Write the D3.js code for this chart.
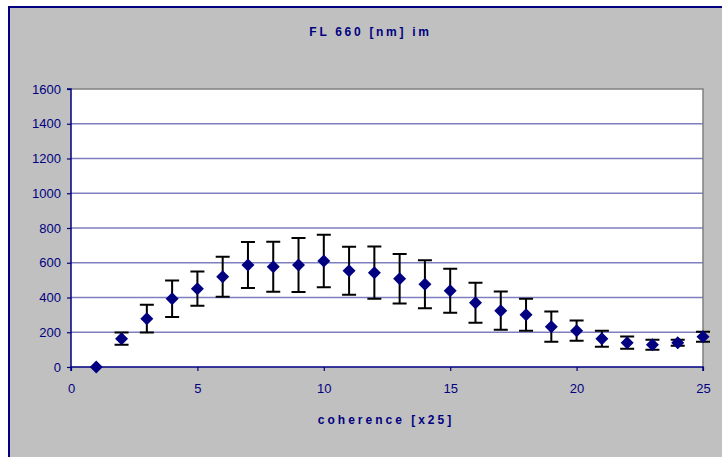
<!DOCTYPE html>
<html><head><meta charset="utf-8">
<script src="https://cdn.jsdelivr.net/npm/d3@7"></script>
<style>body{margin:0;background:#fff}svg{display:block}</style>
</head><body>
<script>
const xValues = [1,2,3,4,5,6,7,8,9,10,11,12,13,14,15,16,17,18,19,20,21,22,23,24,25];
const yValues = [0,163,278,393,451,520,587,577,587,610,554,543,508,476,439,370,324,301,232,209,163,140,128,140,174];
const yErrors = [0,35,80,105,98,115,132,144,155,151,138,150,143,138,127,115,110,92,87,58,46,35,29,17,29];
const xTicks = [0,5,10,15,20,25];
const yTicks = [0,200,400,600,800,1000,1200,1400,1600];
const title = "FL 660 [nm] im";
const xTitle = "coherence [x25]";

const W=722,H=457;
const svg=d3.select("body").append("svg").attr("width",W).attr("height",H);
svg.append("rect").attr("x",0).attr("y",0).attr("width",W).attr("height",H).attr("fill","#fff");
svg.append("rect").attr("x",9).attr("y",7).attr("width",730).attr("height",470)
  .attr("fill","#c0c0c0").attr("stroke","#000080").attr("stroke-width",2);

const L=71,R=703,T=89,B=367;
const x=d3.scaleLinear().domain([0,25]).range([L,R]);
const y=d3.scaleLinear().domain([0,1600]).range([B,T]);

svg.append("rect").attr("x",L).attr("y",T).attr("width",R-L).attr("height",B-T).attr("fill","#fff");
svg.append("g").selectAll("line").data(yTicks.filter(d=>d>0&&d<1600)).join("line")
  .attr("x1",L).attr("x2",R).attr("y1",d=>y(d)).attr("y2",d=>y(d))
  .attr("stroke","#7f7fbf").attr("stroke-width",1.5);
svg.append("path").attr("d",`M${L},${T}H${R}V${B}`).attr("fill","none").attr("stroke","#808080").attr("stroke-width",1.5);

const font="Arial, 'Liberation Sans', sans-serif";
const yAxis=svg.append("g").attr("transform",`translate(${L},0)`)
  .call(d3.axisLeft(y).tickValues(yTicks).tickSize(4).tickPadding(6).tickFormat(d3.format("d")));
const xAxis=svg.append("g").attr("transform",`translate(0,${B})`)
  .call(d3.axisBottom(x).tickValues(xTicks).tickSize(4).tickPadding(13).tickFormat(d3.format("d")));
[yAxis,xAxis].forEach(g=>{
  g.select(".domain").attr("stroke","#000080").attr("stroke-width",1.5);
  g.selectAll(".tick line").attr("stroke","#000080").attr("stroke-width",1.2);
  g.selectAll("text").attr("fill","#000080").attr("font-family",font).attr("font-size",13);
});
yAxis.select(".domain").attr("d",`M-4,${T}H0V${B}`);
xAxis.select(".domain").attr("d",`M${L},4V0H${R}V4`);

const data=xValues.map((v,i)=>({x:v,y:yValues[i],e:yErrors[i]}));
const eb=svg.append("g").attr("stroke","#000").attr("stroke-width",2).attr("fill","none");
data.filter(d=>d.e>0).forEach(d=>{
  const cx=x(d.x),y1=y(d.y+d.e),y0=y(Math.max(0,d.y-d.e));
  eb.append("path").attr("d",`M${cx},${y1}V${y0}M${cx-7},${y1}H${cx+7}M${cx-7},${y0}H${cx+7}`);
});
svg.append("g").selectAll("path").data(data).join("path")
  .attr("transform",d=>`translate(${x(d.x)},${y(d.y)})`)
  .attr("d","M0,-6.5L6.5,0L0,6.5L-6.5,0Z").attr("fill","#000080");

svg.append("text").attr("x",370.5).attr("y",36).attr("text-anchor","middle")
  .attr("font-family",font).attr("font-weight","bold").attr("font-size",12)
  .attr("letter-spacing","2.7px").attr("fill","#000080").text(title);
svg.append("text").attr("x",386).attr("y",424).attr("text-anchor","middle")
  .attr("font-family",font).attr("font-weight","bold").attr("font-size",12)
  .attr("letter-spacing","3px").attr("fill","#000080").text(xTitle);
</script>
</body></html>
